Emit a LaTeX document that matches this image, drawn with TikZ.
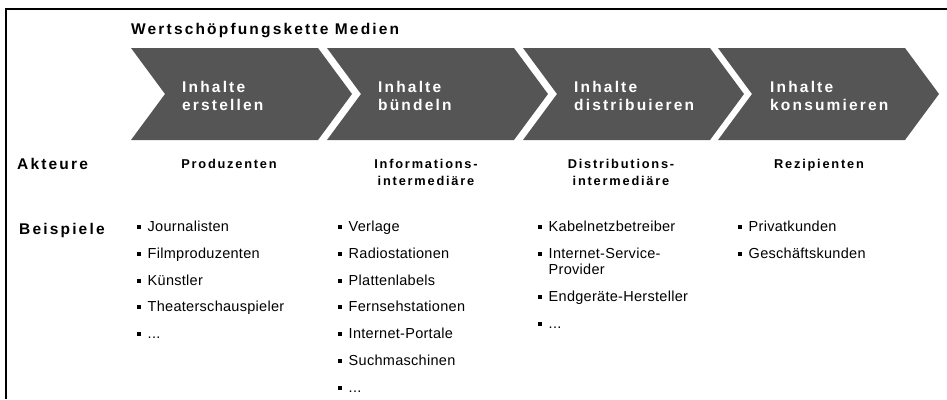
\documentclass[tikz,border=0pt]{standalone}
\usepackage{fontspec}
\setmainfont{Liberation Sans}[LetterSpace=2]
\newfontfamily\wideface{Liberation Sans}[LetterSpace=14]
\definecolor{chevgray}{HTML}{555555}
\newcommand{\sqbul}{\rule[1.8pt]{4pt}{4pt}\hspace{6.5pt}}

\begin{document}
\begin{tikzpicture}[x=1pt,y=-1pt,
    chevron/.style={fill=chevgray},
    heading/.style={anchor=base west, inner sep=0pt, font=\wideface\bfseries\fontsize{15.5}{18}\selectfont},
    stage/.style={heading, white, align=left},
    actor/.style={anchor=base, inner sep=0pt, align=center, font=\wideface\bfseries\fontsize{12.8}{17}\selectfont},
    item/.style={anchor=base west, inner sep=0pt, align=left, font=\fontsize{14.5}{16}\selectfont}]
    \useasboundingbox (0,0) rectangle (947,399);
    % Draw frame
    \draw[line width=2pt] (6,399) -- (6,9) -- (947,9);
    \node[heading] (title) at (131,34) {Wertschöpfungskette Medien};

    % Draw value chain
    \fill[chevron] (131,48) -- (318,48) -- (352,94) -- (318,140) -- (131,140) -- (165,94) -- cycle;
    \fill[chevron] (327,48) -- (514,48) -- (548,94) -- (514,140) -- (327,140) -- (361,94) -- cycle;
    \fill[chevron] (523,48) -- (710,48) -- (744,94) -- (710,140) -- (523,140) -- (557,94) -- cycle;
    \fill[chevron] (718,48) -- (905,48) -- (939,94) -- (905,140) -- (718,140) -- (752,94) -- cycle;

    % base anchor sits on the last line
    \node[stage] (erstellen) at (182,110) {Inhalte\\erstellen};
    \node[stage] (buendeln) at (378,110) {Inhalte\\bündeln};
    \node[stage] (distribuieren) at (574,110) {Inhalte\\distribuieren};
    \node[stage] (konsumieren) at (770,110) {Inhalte\\konsumieren};

    % Akteure
    \node[heading] (akteure) at (17,169) {Akteure};
    \node[actor] (produzenten) at (229,168) {Produzenten};
    \node[actor] (infointer) at (426,185) {Informations-\\intermediäre};
    \node[actor] (distinter) at (621,185) {Distributions-\\intermediäre};
    \node[actor] (rezipienten) at (819,168) {Rezipienten};

    % Beispiele
    \node[heading] (beispiele) at (19,234) {Beispiele};

    \node[item] (journalisten) at (137,231) {\sqbul Journalisten};
    \node[item] (filmprod) at (137,258) {\sqbul Filmproduzenten};
    \node[item] (kuenstler) at (137,285) {\sqbul Künstler};
    \node[item] (theater) at (137,311) {\sqbul Theaterschauspieler};
    \node[item] (prodmore) at (137,338) {\sqbul ...};

    \node[item] (verlage) at (338,231) {\sqbul Verlage};
    \node[item] (radio) at (338,258) {\sqbul Radiostationen};
    \node[item] (platten) at (338,285) {\sqbul Plattenlabels};
    \node[item] (fernseh) at (338,311) {\sqbul Fernsehstationen};
    \node[item] (portale) at (338,338) {\sqbul Internet-Portale};
    \node[item] (suche) at (338,365) {\sqbul Suchmaschinen};
    \node[item] (infomore) at (338,392) {\sqbul ...};

    \node[item] (kabel) at (538,231) {\sqbul Kabelnetzbetreiber};
    \node[item] (isp) at (538,274) {\sqbul Internet-Service-\\\hspace*{10.5pt}Provider};
    \node[item] (endgeraete) at (538,301) {\sqbul Endgeräte-Hersteller};
    \node[item] (distmore) at (538,328) {\sqbul ...};

    \node[item] (privat) at (738,231) {\sqbul Privatkunden};
    \node[item] (geschaeft) at (738,258) {\sqbul Geschäftskunden};
\end{tikzpicture}
\end{document}
